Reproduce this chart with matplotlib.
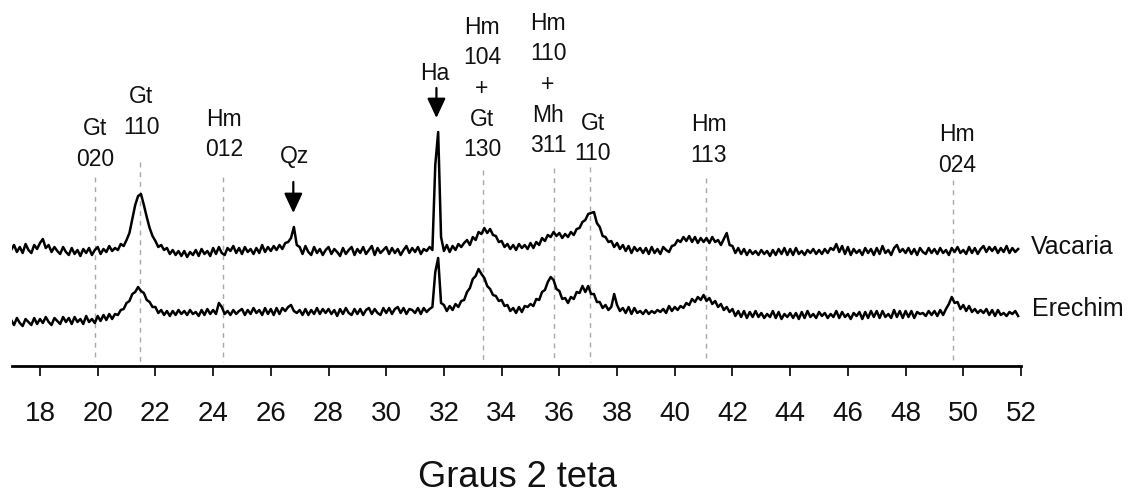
import numpy as np
import matplotlib
matplotlib.use("Agg")
import matplotlib.pyplot as plt

plt.rcParams['font.family'] = ['Liberation Sans', 'DejaVu Sans']

# ---------------- data ----------------
two_theta = np.round(np.arange(17.0, 51.95, 0.1), 1)   # 17.0 ... 51.9

vacaria = [
    150,155,148,153,147,156,150,147,155,151,   # 17
    157,161,152,155,148,153,149,146,153,148,   # 18
    145,152,146,150,144,151,147,152,145,150,   # 19
    153,146,151,148,154,149,152,150,156,154,   # 20
    160,167,181,195,204,206,195,183,172,164,   # 21
    159,153,155,150,152,146,150,145,149,144,   # 22
    149,143,148,145,150,144,151,146,149,144,   # 23
    152,146,153,147,145,152,149,154,147,152,   # 24
    146,153,148,151,146,152,147,155,148,153,   # 25
    149,154,150,155,151,157,158,162,173,155,   # 26
    153,146,154,148,145,153,147,151,145,150,   # 27
    153,146,151,148,144,152,146,150,153,145,   # 28
    151,147,153,146,150,154,145,152,147,150,   # 29
    153,146,152,147,151,145,150,154,147,152,   # 30
    148,153,146,151,149,153,150,235,268,163,   # 31
    149,155,148,154,150,156,153,157,160,155,   # 32
    163,160,168,166,172,167,171,165,164,158,   # 33
    159,153,156,151,155,150,156,152,155,151,   # 34
    157,152,158,155,162,159,165,163,168,164,   # 35
    167,162,166,163,168,165,171,172,178,180,   # 36
    186,187,188,177,173,164,163,158,159,153,   # 37
    157,151,155,149,154,147,153,149,152,147,   # 38
    152,146,153,147,151,146,153,150,148,154,   # 39
    155,160,158,163,159,164,158,163,157,162,   # 40
    158,162,157,163,158,160,155,161,167,155,   # 41
    154,147,152,146,151,145,150,146,149,145,   # 42
    150,146,149,144,150,145,151,146,152,145,   # 43
    151,145,152,146,149,145,150,147,151,146,   # 44
    150,146,151,147,152,150,156,148,154,146,   # 45
    153,145,151,147,150,145,152,147,151,145,   # 46
    152,146,154,147,150,145,152,155,148,151,   # 47
    147,152,146,151,145,152,148,146,152,147,   # 48
    151,146,152,147,150,145,152,148,153,147,   # 49
    150,146,153,147,152,146,151,154,148,153,   # 50
    149,153,147,152,148,154,147,152,148,151,   # 51
]

erechim = [
    80,75,82,77,74,81,78,75,82,76,   # 17
    81,77,83,78,75,82,79,76,83,78,   # 18
    82,76,83,78,81,76,84,78,81,77,   # 19
    84,79,85,80,86,81,86,85,90,91,   # 20
    97,99,106,108,113,109,107,100,98,93,   # 21
    93,87,90,85,89,84,89,85,90,86,   # 22
    89,85,90,86,88,84,90,85,91,86,   # 23
    90,86,97,93,86,89,85,90,86,89,   # 24
    91,85,90,86,92,87,90,85,92,86,   # 25
    91,85,92,86,92,89,93,95,89,87,   # 26
    90,85,91,85,90,86,92,86,91,87,   # 27
    91,86,90,84,91,86,92,87,85,91,   # 28
    86,91,85,90,92,86,91,87,85,92,   # 29
    87,92,86,91,93,87,92,86,91,90,   # 30
    87,92,86,92,88,91,93,128,142,97,   # 31
    95,89,94,90,96,93,99,100,108,112,   # 32
    121,124,131,126,122,114,111,105,104,99,   # 33
    100,94,95,89,92,87,93,88,94,93,   # 34
    96,94,101,100,108,110,118,123,120,111,   # 35
    109,101,102,97,103,101,108,107,114,108,   # 36
    114,106,106,98,98,92,95,90,93,106,   # 37
    95,89,92,87,93,86,92,87,89,86,   # 38
    90,86,89,87,90,88,91,87,94,89,   # 39
    93,90,94,92,97,95,101,98,103,100,   # 40
    105,99,102,96,99,93,96,90,93,88,   # 41
    91,84,89,83,89,82,88,83,89,83,   # 42
    87,82,86,83,89,82,88,81,86,83,   # 43
    87,82,87,81,88,82,89,83,86,82,   # 44
    88,84,87,82,86,83,89,82,88,83,   # 45
    86,81,87,84,88,81,88,82,89,83,   # 46
    89,82,89,83,86,82,90,83,89,82,   # 47
    89,83,89,82,88,86,87,84,89,85,   # 48
    89,84,90,85,91,96,103,97,98,91,   # 49
    95,89,94,88,91,87,90,87,91,85,   # 50
    90,84,90,85,87,84,88,86,89,84,   # 51
]

series_names = ["Vacaria", "Erechim"]

# reflection markers (2 theta) and their labels
ref_pos = [19.9, 21.47, 24.35, 33.37, 35.8, 37.05, 41.1, 49.65]
ref_labels = [["Gt", "020"], ["Gt", "110"], ["Hm", "012"],
              ["Hm", "104", "+", "Gt", "130"],
              ["Hm", "110", "+", "Mh", "311"],
              ["Gt", "110"], ["Hm", "113"], ["Hm", "024"]]
arrow_pos = [26.78, 31.74]
arrow_labels = ["Qz", "Ha"]

xticks = list(range(18, 53, 2))

# ---------------- layout ----------------
W, H = 1133, 499
fig = plt.figure(figsize=(W / 100, H / 100), dpi=100)
ax_left, ax_right, ax_bottom_px = 12, 1021, 366
ax = fig.add_axes([ax_left / W, 1 - ax_bottom_px / H, (ax_right - ax_left) / W, ax_bottom_px / H])
ax.set_xlim(17.03, 52.0)
ax.set_ylim(400 - ax_bottom_px, 400)   # y data = 400 - pixel row


def py(pixel_row):
    return 400 - pixel_row


def px2x(pixel_col):
    return 17.03 + (pixel_col - ax_left) * (52.0 - 17.03) / (ax_right - ax_left)


txt_color = '#111111'

# dashed reference lines
line_tops = [177, 162, 177, 170, 168, 167, 178, 180]
for xv, top in zip(ref_pos, line_tops):
    ax.plot([xv, xv], [py(top), py(362)], color='#a8a8a8', lw=1.0,
            dashes=(3.5, 3.5), zorder=1)

# patterns
ax.plot(two_theta, vacaria, color='black', lw=1.8, zorder=3)
ax.plot(two_theta, erechim, color='black', lw=1.8, zorder=3)

# series names
ax.text(px2x(1031), py(245 + 9), series_names[0], fontsize=18, color=txt_color,
        ha='left', va='baseline', clip_on=False)
ax.text(px2x(1032), py(307 + 9), series_names[1], fontsize=18, color=txt_color,
        ha='left', va='baseline', clip_on=False)

# reflection labels (one text per line)
label_x_px = [95, 141, 224, 482, 548, 593, 709, 957]
label_top_px = [127, 95, 118, 26, 22, 122, 123, 133]
line_step = 30.5
for xp, top, lines in zip(label_x_px, label_top_px, ref_labels):
    for i, s in enumerate(lines):
        ax.text(px2x(xp), py(top + i * line_step + 8), s, fontsize=16.5,
                color=txt_color, ha='center', va='baseline', clip_on=False)

# arrows with labels
arrow_text_px = [(294, 155), (435, 72)]
arrow_span_px = [(182, 213), (88, 118)]
for xv, lab, (tx, ty), (y0, y1) in zip(arrow_pos, arrow_labels, arrow_text_px, arrow_span_px):
    ax.annotate('', xy=(xv, py(y1)), xytext=(xv, py(y0)),
                arrowprops=dict(arrowstyle='-|>,head_length=0.6,head_width=0.28',
                                color='black', lw=1.6, shrinkA=0, shrinkB=0,
                                mutation_scale=20))
    ax.text(px2x(tx), py(ty + 8), lab, fontsize=16.5, color=txt_color,
            ha='center', va='baseline')

# axis styling
for side in ['left', 'right', 'top']:
    ax.spines[side].set_visible(False)
ax.spines['bottom'].set_linewidth(2.0)
ax.set_yticks([])
ax.set_xticks(xticks)
ax.set_xticklabels([str(t) for t in xticks])
ax.tick_params(axis='x', direction='out', length=7.5, width=1.2, pad=18,
               labelsize=20, labelcolor=txt_color)
ax.patch.set_visible(False)

fig.text(517 / W, 1 - 487 / H, "Graus 2 teta", fontsize=26, color=txt_color,
         ha='center', va='baseline')

fig.savefig('out.png', dpi=100, facecolor='white')
